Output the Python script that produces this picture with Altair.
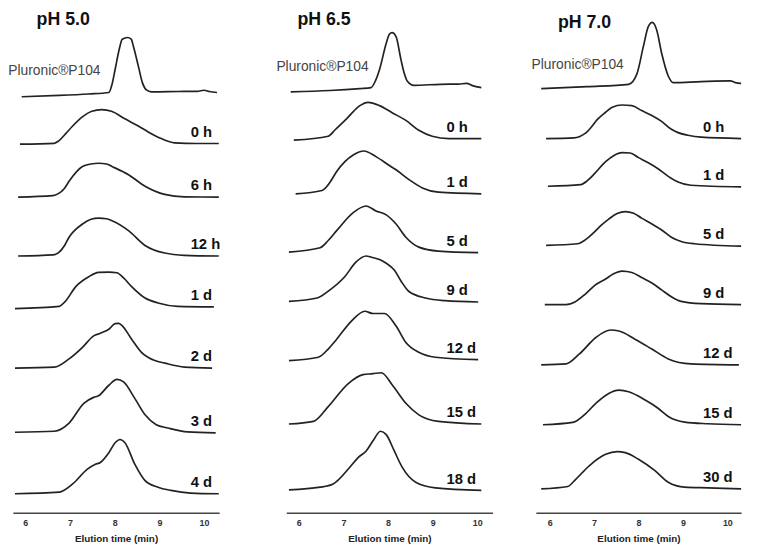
import altair as alt
import pandas as pd

FONT = "Liberation Sans"

# ---------------- pH 5.0 : (elution time [min], stacked detector signal) ----------------
PH50_P104 = [(5.92, 421.7), (6.76, 423), (7.42, 424.5), (7.87, 426), (7.94, 434), (8.01, 449.3),
             (8.10, 469.3), (8.17, 480), (8.29, 481.7), (8.37, 480), (8.42, 472.7), (8.53, 452.7),
             (8.62, 436), (8.71, 428.7), (8.82, 426.7), (9.41, 427), (9.85, 427.2), (10.00, 428.3),
             (10.12, 427), (10.29, 426)]
PH50_0H = [(5.88, 373.7), (6.65, 374.5), (6.75, 377), (6.90, 384), (7.05, 391.5), (7.27, 401),
           (7.49, 407), (7.71, 408.7), (7.93, 407), (8.23, 399.3), (8.53, 392), (8.75, 386),
           (9.04, 379.3), (9.34, 375), (9.85, 374.3), (10.33, 374.3)]
PH50_6H = [(5.84, 320), (6.62, 321.5), (6.74, 323.5), (6.88, 329), (6.98, 336), (7.28, 351),
           (7.47, 353.5), (7.64, 354.3), (7.82, 353.5), (7.94, 351), (8.31, 342.7), (8.68, 331),
           (9.12, 322.7), (9.56, 320.3), (10.33, 320)]
PH50_12H = [(5.84, 260.3), (6.62, 261.5), (6.74, 263.5), (6.88, 271), (6.98, 279.3), (7.28, 292.7),
            (7.47, 297.5), (7.64, 298.7), (7.82, 298), (7.94, 296), (8.31, 286), (8.68, 271),
            (9.12, 263.3), (9.56, 261), (10.33, 260.3)]
PH50_1D = [(5.77, 207), (6.76, 209.3), (6.89, 214), (7.13, 229.3), (7.42, 239.3), (7.64, 243.7),
           (7.87, 244), (8.05, 243.3), (8.20, 238), (8.38, 229.3), (8.68, 217.7), (8.97, 212.7),
           (9.41, 209.3), (10.22, 208.7)]
PH50_2D = [(5.77, 146.7), (6.65, 147.7), (6.98, 156), (7.28, 167.7), (7.53, 179.3), (7.68, 182),
           (7.87, 186), (8.01, 191.7), (8.09, 192), (8.16, 190), (8.38, 176), (8.60, 162.7),
           (8.90, 154.3), (9.12, 151.7), (9.56, 147.7), (10.18, 146.7)]
PH50_3D = [(5.77, 81.7), (6.65, 82.7), (6.98, 91), (7.31, 111), (7.53, 117), (7.64, 118.7),
           (7.87, 129.3), (8.05, 135.3), (8.20, 132.7), (8.45, 116), (8.68, 99.3), (8.93, 89.3),
           (9.19, 86), (9.63, 82), (10.26, 81)]
PH50_4D = [(5.77, 19.3), (6.76, 21), (7.06, 29.3), (7.39, 44.3), (7.57, 49.3), (7.68, 51),
           (7.87, 61), (8.01, 71), (8.12, 74.3), (8.23, 71), (8.45, 49.3), (8.68, 32.7),
           (8.97, 26), (9.26, 22.7), (9.70, 20), (10.33, 19.3)]
PH50_LABELS = ["0 h", "6 h", "12 h", "1 d", "2 d", "3 d", "4 d"]

# ---------------- pH 6.5 ----------------
PH65_P104 = [(5.82, 426.7), (6.70, 428), (7.37, 430), (7.62, 431), (7.72, 438), (7.81, 449.3),
             (7.96, 476), (8.03, 485), (8.09, 486.7), (8.18, 482.7), (8.29, 459.3), (8.36, 446),
             (8.43, 437.7), (8.58, 433.3), (9.17, 434.3), (9.58, 434.5), (9.76, 435.3), (9.89, 433),
             (10.09, 431)]
PH65_0H = [(5.89, 377.7), (6.66, 381.7), (6.81, 388), (7.07, 399.3), (7.37, 412.7), (7.55, 416),
           (7.81, 412.7), (8.10, 405.3), (8.40, 397.7), (8.69, 387.7), (8.99, 381.7), (9.36, 379.3),
           (10.09, 379.3)]
PH65_1D = [(5.93, 323.3), (6.52, 326.7), (6.70, 335), (6.85, 346), (7.22, 362.7), (7.46, 366.7),
           (7.73, 361), (8.03, 352), (8.18, 347.7), (8.47, 337.7), (8.77, 329.3), (9.13, 325),
           (10.09, 323.3)]
PH65_5D = [(5.78, 264.3), (6.48, 268.7), (6.66, 276), (6.85, 286), (7.22, 304.3), (7.51, 311),
           (7.73, 306), (7.96, 302), (8.18, 292.7), (8.40, 279.3), (8.69, 269.3), (9.13, 265.3),
           (10.02, 263.7)]
PH65_9D = [(5.78, 214.3), (6.41, 217.7), (6.70, 226), (7.03, 239.3), (7.28, 254), (7.51, 260.3),
           (7.63, 259), (7.81, 256.7), (7.96, 253), (8.14, 246), (8.29, 235), (8.47, 224.3),
           (8.84, 217.7), (9.28, 215), (10.02, 213.7)]
PH65_12D = [(5.78, 154.3), (6.44, 157.7), (6.66, 166), (6.85, 176), (7.18, 194.3), (7.48, 204.3),
            (7.66, 202), (7.92, 202), (8.18, 189.3), (8.40, 172.7), (8.69, 162.7), (9.06, 157.7),
            (10.02, 155.3)]
PH65_15D = [(5.78, 90), (6.33, 92.7), (6.66, 107.7), (7.11, 131), (7.44, 140), (7.66, 141),
            (7.85, 142), (8.10, 129.3), (8.40, 111), (8.69, 99.3), (9.13, 92.7), (10.09, 90)]
PH65_18D = [(5.78, 23.3), (6.48, 26), (6.77, 29.3), (7.14, 46), (7.33, 56), (7.51, 62.7),
            (7.66, 72.7), (7.83, 82.7), (7.96, 79.3), (8.14, 62.7), (8.32, 46), (8.62, 31),
            (9.06, 25.3), (10.09, 22.7)]
PH65_LABELS = ["0 h", "1 d", "5 d", "9 d", "12 d", "15 d", "18 d"]

# ---------------- pH 7.0 ----------------
PH70_P104 = [(5.81, 430), (6.85, 432), (7.78, 434.3), (7.96, 444.3), (8.11, 472.7), (8.22, 492.7),
             (8.31, 497), (8.41, 489.3), (8.52, 466), (8.67, 442.7), (8.78, 436), (9.41, 437),
             (10.07, 437.7), (10.18, 436), (10.31, 435.3)]
PH70_0H = [(5.92, 379.3), (6.55, 380), (6.68, 381.5), (6.80, 384.5), (6.93, 390.5), (7.07, 398.5),
           (7.26, 406), (7.41, 411), (7.63, 413.3), (7.85, 412.7), (8.07, 407.7), (8.30, 402.7),
           (8.52, 396.7), (8.74, 388.7), (8.89, 385.3), (9.11, 382.7), (9.41, 380.7), (10.31, 379.3)]
PH70_1D = [(5.96, 331), (6.70, 332.7), (6.85, 336.7), (7.00, 343.3), (7.26, 356), (7.44, 362),
           (7.63, 365), (7.81, 364.7), (8.00, 360), (8.22, 354.7), (8.44, 348.7), (8.67, 341),
           (8.89, 335.3), (9.18, 332), (10.31, 330.3)]
PH70_5D = [(5.92, 271), (6.63, 272.7), (6.78, 276), (6.96, 282.7), (7.15, 291), (7.33, 297.7),
           (7.52, 303.3), (7.70, 305.3), (7.89, 303.7), (8.07, 298.7), (8.30, 292.7), (8.52, 286.7),
           (8.74, 279.3), (8.96, 275), (9.26, 272.7), (10.31, 270.3)]
PH70_9D = [(5.89, 211), (6.37, 211), (6.58, 214), (6.81, 222), (7.03, 231), (7.26, 237),
           (7.43, 242), (7.63, 245), (7.85, 243.5), (8.07, 238.5), (8.30, 233), (8.52, 226),
           (8.74, 219), (8.96, 214.3), (9.41, 212), (10.31, 211)]
PH70_12D = [(5.81, 150), (6.37, 151), (6.67, 161), (7.04, 177.7), (7.37, 185.3), (7.56, 184.3),
            (7.92, 176), (8.30, 166), (8.67, 156), (9.18, 151), (10.26, 150)]
PH70_15D = [(5.85, 89.3), (6.52, 91.7), (6.78, 99.3), (7.04, 111), (7.33, 121), (7.56, 124.3),
            (7.78, 122.7), (8.15, 114.3), (8.44, 106), (8.67, 97.7), (9.04, 92), (9.56, 90.3),
            (10.31, 89.3)]
PH70_30D = [(5.81, 24.3), (6.41, 26.7), (6.56, 32.7), (6.89, 47.7), (7.26, 59.3), (7.52, 62),
            (7.70, 61), (8.00, 54.3), (8.37, 42.7), (8.67, 31), (9.04, 26), (9.56, 25.3),
            (10.31, 24.3)]
PH70_LABELS = ["0 h", "1 d", "5 d", "9 d", "12 d", "15 d", "30 d"]

TITLES = ["pH 5.0", "pH 6.5", "pH 7.0"]
REF_LABEL = "Pluronic\u00aeP104"
X_TICKS = [6, 7, 8, 9, 10]
X_TITLE = "Elution time (min)"

LINE_COLOR = "#222222"
PLOT_H = 508


def panel(title, traces, labels, xdomain, width, label_t, title_xy, ref_xy, y_extent=None):
    rows = []
    for i, pts in enumerate(traces):
        for t, v in pts:
            rows.append({"trace": i, "t": t, "v": v})
    df = pd.DataFrame(rows)
    lab = pd.DataFrame({
        "label": labels,
        "t": [label_t] * len(labels),
        "v": [traces[i + 1][-1][1] + 7 for i in range(len(labels))],
    })

    x_enc = alt.X(
        "t:Q",
        scale=alt.Scale(domain=xdomain, nice=False, zero=False),
        axis=alt.Axis(values=X_TICKS, title=X_TITLE, grid=False, ticks=False, tickSize=0,
                      domainColor="#444444", domainWidth=1.5, labelFont=FONT, labelFontSize=9,
                      labelFontWeight="bold", labelColor="#333333", labelPadding=6,
                      titleFont=FONT, titleFontSize=10, titleFontWeight="bold",
                      titleColor="#222222", titlePadding=6),
    )
    if y_extent is None:
        y_axis = None
    else:
        y_axis = alt.Axis(domain=False, ticks=False, labels=False, grid=False, title=None,
                          minExtent=y_extent, maxExtent=y_extent)
    y_enc = alt.Y("v:Q", scale=alt.Scale(domain=[0, PLOT_H], nice=False, zero=False), axis=y_axis)

    lines = alt.Chart(df).mark_line(
        interpolate="monotone", color=LINE_COLOR, strokeWidth=1.7
    ).encode(x=x_enc, y=y_enc, detail="trace:N")

    texts = alt.Chart(lab).mark_text(
        align="left", baseline="alphabetic", font=FONT, fontSize=15, fontWeight="bold",
        color="#111111"
    ).encode(x=x_enc, y=y_enc, text="label:N")

    one = pd.DataFrame({"k": [0]})
    ttl = alt.Chart(one).mark_text(
        text=title, align="left", baseline="alphabetic", font=FONT, fontSize=18,
        fontWeight="bold", color="#111111"
    ).encode(x=alt.value(title_xy[0]), y=alt.value(title_xy[1]))
    ref = alt.Chart(one).mark_text(
        text=REF_LABEL, align="left", baseline="alphabetic", font=FONT, fontSize=14,
        color="#444444"
    ).encode(x=alt.value(ref_xy[0]), y=alt.value(ref_xy[1]))

    return alt.layer(lines, texts, ttl, ref).properties(width=width, height=PLOT_H)


p1 = panel(TITLES[0],
           [PH50_P104, PH50_0H, PH50_6H, PH50_12H, PH50_1D, PH50_2D, PH50_3D, PH50_4D],
           PH50_LABELS, [5.724, 10.338], 209, 9.70, (24, 14), (-4.7, 64))
p2 = panel(TITLES[1],
           [PH65_P104, PH65_0H, PH65_1D, PH65_5D, PH65_9D, PH65_12D, PH65_15D, PH65_18D],
           PH65_LABELS, [5.72, 10.34], 209, 9.31, (11.3, 14), (-10, 60), y_extent=25)
p3 = panel(TITLES[2],
           [PH70_P104, PH70_0H, PH70_1D, PH70_5D, PH70_9D, PH70_12D, PH70_15D, PH70_30D],
           PH70_LABELS, [5.69, 10.31], 208, 9.45, (22.3, 17), (-4.4, 58))

chart = alt.hconcat(p1, p2, p3, spacing=39).resolve_scale(
    x="independent", y="independent"
).properties(
    padding={"left": 0, "top": 0, "right": 5, "bottom": 0},
    background="white",
).configure_view(stroke=None)

chart.save("out.html", embed_options={"renderer": "svg", "actions": False})
